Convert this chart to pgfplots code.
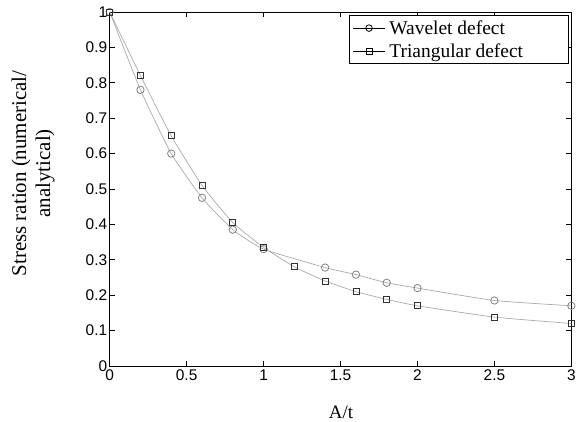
\documentclass[border=0pt]{standalone}
\usepackage{fontspec}
\setmainfont{Liberation Serif}
\newfontfamily\arialf{Liberation Sans}
\usepackage{pgfplots}
\pgfplotsset{compat=1.18}
\definecolor{lgray}{RGB}{170,170,170}
\definecolor{mgray}{RGB}{130,130,130}
\definecolor{dgray}{RGB}{50,50,50}
\begin{document}
\begin{tikzpicture}
\begin{axis}[
  scale only axis, width=463pt, height=355pt,
  xmin=0, xmax=3, ymin=0, ymax=1,
  xtick={0,0.5,...,3}, ytick={0,0.1,...,1},
  xticklabels={0,0.5,1,1.5,2,2.5,3},
  yticklabels={0,0.1,0.2,0.3,0.4,0.5,0.6,0.7,0.8,0.9,1},
  tick align=inside, major tick length=5pt,
  tick style={black, line width=0.6pt},
  axis line style={black, line width=0.8pt},
  ticklabel style={font=\arialf\fontsize{15.5}{16}\selectfont},
  yticklabel style={xshift=1pt},
  /pgf/number format/assume math mode=true,
  xlabel={A/t}, ylabel={Stress ration (numerical/\\analytical)},
  ylabel style={align=center, font=\fontsize{21}{24}\selectfont,
    at={(axis description cs:-0.166,0.544)}, anchor=center},
  xlabel style={font=\fontsize{19}{22}\selectfont,
    at={(axis description cs:0.501,-0.13)}, anchor=center},
  legend style={at={(0.9935,0.991)}, anchor=north east, draw=black, line width=0.8pt,
    font=\fontsize{19.5}{22}\selectfont, row sep=4pt, inner sep=3pt,
    nodes={inner xsep=4pt}},
  legend cell align=left,
  legend image code/.code={\draw[mark repeat=2,mark phase=2] plot coordinates {(0pt,0pt) (16pt,0pt) (32pt,0pt)};},
  clip=false,
]
\addlegendimage{black, line width=0.8pt, mark=o, mark size=3.3pt}
\addlegendentry{Wavelet defect}
\addlegendimage{black, line width=0.8pt, mark=square, mark size=3pt}
\addlegendentry{Triangular defect\hspace*{38pt}}
\addplot[lgray, line width=0.7pt, smooth, tension=0.3, mark=o, mark size=3.7pt, mark options={mgray, line width=0.8pt}, forget plot] coordinates {
(0,1) (0.2,0.78) (0.4,0.60) (0.6,0.475) (0.8,0.385) (1.0,0.33) (1.4,0.278) (1.6,0.258) (1.8,0.235) (2.0,0.22) (2.5,0.185) (3.0,0.17)};
\addplot[lgray, line width=0.7pt, smooth, tension=0.3, mark=square, mark size=3pt, mark options={dgray, line width=0.8pt}, forget plot] coordinates {
(0,1) (0.2,0.82) (0.4,0.65) (0.6,0.51) (0.8,0.405) (1.0,0.335) (1.2,0.28) (1.4,0.24) (1.6,0.21) (1.8,0.188) (2.0,0.17) (2.5,0.138) (3.0,0.12)};
\end{axis}
\path (current axis.south west) ++(-110pt,-56pt) (current axis.north east) ++(6pt,12pt);
\end{tikzpicture}
\end{document}
